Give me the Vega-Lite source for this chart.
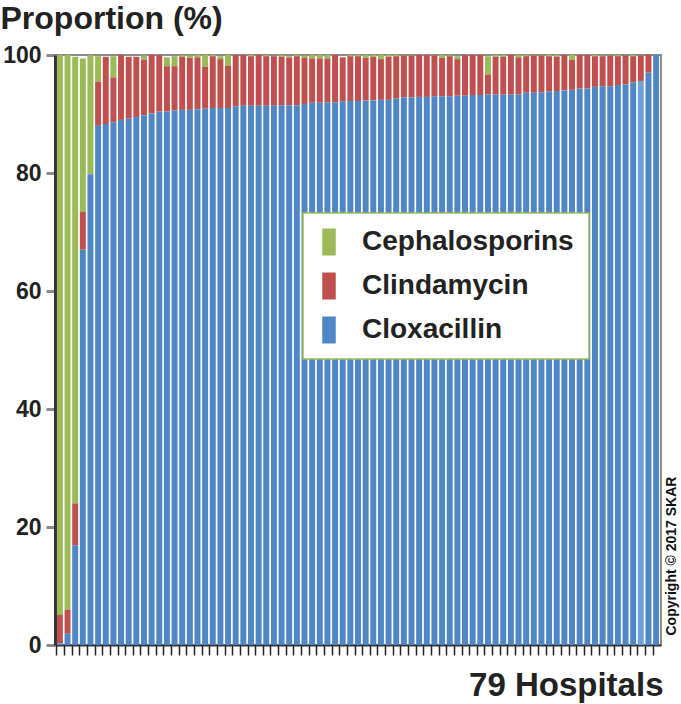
{
  "$schema": "https://vega.github.io/schema/vega-lite/v6.json",
  "autosize": {"type": "none"},
  "padding": {"left": 55, "top": 55, "right": 20, "bottom": 59},
  "width": 606,
  "height": 590,
  "background": "white",
  "config": {
    "font": "Liberation Sans",
    "view": {"stroke": "#8c8c8c", "strokeWidth": 2},
    "legend": {
      "orient": "none",
      "legendX": 248,
      "legendY": 158,
      "strokeColor": "#9bbb59",
      "strokeWidth": 1.5,
      "fillColor": "white",
      "padding": 15,
      "labelFontSize": 28,
      "labelFontWeight": "bold",
      "labelColor": "#222222",
      "labelBaseline": "middle",
      "labelLimit": 400,
      "labelOffset": 19,
      "symbolType": "M-0.5,-1H0.5V1H-0.5Z",
      "symbolSize": 729,
      "symbolStrokeWidth": 0,
      "symbolOffset": -3,
      "rowPadding": 16
    }
  },
  "data": {
    "values": [
      {"h": 1, "Cloxacillin": 0.3, "Clindamycin": 4.8, "Cephalosporins": 94.9},
      {"h": 2, "Cloxacillin": 1.9, "Clindamycin": 4.1, "Cephalosporins": 94.0},
      {"h": 3, "Cloxacillin": 16.9, "Clindamycin": 7.1, "Cephalosporins": 75.7},
      {"h": 4, "Cloxacillin": 67.0, "Clindamycin": 6.4, "Cephalosporins": 26.0},
      {"h": 5, "Cloxacillin": 79.8, "Clindamycin": 0, "Cephalosporins": 20.2},
      {"h": 6, "Cloxacillin": 88.0, "Clindamycin": 7.5, "Cephalosporins": 4.3},
      {"h": 7, "Cloxacillin": 88.3, "Clindamycin": 11.4, "Cephalosporins": 0},
      {"h": 8, "Cloxacillin": 88.6, "Clindamycin": 7.6, "Cephalosporins": 3.6},
      {"h": 9, "Cloxacillin": 89.0, "Clindamycin": 11.0, "Cephalosporins": 0},
      {"h": 10, "Cloxacillin": 89.2, "Clindamycin": 10.5, "Cephalosporins": 0},
      {"h": 11, "Cloxacillin": 89.5, "Clindamycin": 10.2, "Cephalosporins": 0},
      {"h": 12, "Cloxacillin": 89.8, "Clindamycin": 9.4, "Cephalosporins": 0.7},
      {"h": 13, "Cloxacillin": 90.1, "Clindamycin": 9.9, "Cephalosporins": 0},
      {"h": 14, "Cloxacillin": 90.4, "Clindamycin": 9.6, "Cephalosporins": 0},
      {"h": 15, "Cloxacillin": 90.4, "Clindamycin": 7.7, "Cephalosporins": 1.5},
      {"h": 16, "Cloxacillin": 90.6, "Clindamycin": 7.5, "Cephalosporins": 1.7},
      {"h": 17, "Cloxacillin": 90.7, "Clindamycin": 9.0, "Cephalosporins": 0.3},
      {"h": 18, "Cloxacillin": 90.7, "Clindamycin": 8.8, "Cephalosporins": 0.4},
      {"h": 19, "Cloxacillin": 90.8, "Clindamycin": 8.8, "Cephalosporins": 0.4},
      {"h": 20, "Cloxacillin": 90.9, "Clindamycin": 7.1, "Cephalosporins": 2.0},
      {"h": 21, "Cloxacillin": 91.0, "Clindamycin": 8.8, "Cephalosporins": 0.2},
      {"h": 22, "Cloxacillin": 91.0, "Clindamycin": 8.3, "Cephalosporins": 0.5},
      {"h": 23, "Cloxacillin": 91.0, "Clindamycin": 7.2, "Cephalosporins": 1.8},
      {"h": 24, "Cloxacillin": 91.3, "Clindamycin": 8.7, "Cephalosporins": 0},
      {"h": 25, "Cloxacillin": 91.4, "Clindamycin": 8.6, "Cephalosporins": 0},
      {"h": 26, "Cloxacillin": 91.4, "Clindamycin": 8.4, "Cephalosporins": 0.2},
      {"h": 27, "Cloxacillin": 91.4, "Clindamycin": 8.6, "Cephalosporins": 0},
      {"h": 28, "Cloxacillin": 91.4, "Clindamycin": 8.4, "Cephalosporins": 0.2},
      {"h": 29, "Cloxacillin": 91.4, "Clindamycin": 8.4, "Cephalosporins": 0},
      {"h": 30, "Cloxacillin": 91.5, "Clindamycin": 8.2, "Cephalosporins": 0.3},
      {"h": 31, "Cloxacillin": 91.5, "Clindamycin": 8.1, "Cephalosporins": 0.2},
      {"h": 32, "Cloxacillin": 91.5, "Clindamycin": 8.3, "Cephalosporins": 0.2},
      {"h": 33, "Cloxacillin": 91.7, "Clindamycin": 7.8, "Cephalosporins": 0.4},
      {"h": 34, "Cloxacillin": 91.9, "Clindamycin": 7.5, "Cephalosporins": 0.6},
      {"h": 35, "Cloxacillin": 91.9, "Clindamycin": 7.5, "Cephalosporins": 0.6},
      {"h": 36, "Cloxacillin": 92.0, "Clindamycin": 7.4, "Cephalosporins": 0.6},
      {"h": 37, "Cloxacillin": 92.0, "Clindamycin": 8.0, "Cephalosporins": 0},
      {"h": 38, "Cloxacillin": 92.1, "Clindamycin": 7.5, "Cephalosporins": 0},
      {"h": 39, "Cloxacillin": 92.2, "Clindamycin": 7.6, "Cephalosporins": 0.2},
      {"h": 40, "Cloxacillin": 92.2, "Clindamycin": 7.6, "Cephalosporins": 0.2},
      {"h": 41, "Cloxacillin": 92.3, "Clindamycin": 7.2, "Cephalosporins": 0.5},
      {"h": 42, "Cloxacillin": 92.3, "Clindamycin": 7.4, "Cephalosporins": 0.3},
      {"h": 43, "Cloxacillin": 92.4, "Clindamycin": 6.9, "Cephalosporins": 0.7},
      {"h": 44, "Cloxacillin": 92.4, "Clindamycin": 7.3, "Cephalosporins": 0.3},
      {"h": 45, "Cloxacillin": 92.6, "Clindamycin": 7.2, "Cephalosporins": 0.2},
      {"h": 46, "Cloxacillin": 92.8, "Clindamycin": 7.1, "Cephalosporins": 0.1},
      {"h": 47, "Cloxacillin": 92.8, "Clindamycin": 7.1, "Cephalosporins": 0.1},
      {"h": 48, "Cloxacillin": 92.9, "Clindamycin": 7.1, "Cephalosporins": 0},
      {"h": 49, "Cloxacillin": 92.9, "Clindamycin": 7.1, "Cephalosporins": 0},
      {"h": 50, "Cloxacillin": 93.0, "Clindamycin": 6.9, "Cephalosporins": 0},
      {"h": 51, "Cloxacillin": 93.0, "Clindamycin": 6.5, "Cephalosporins": 0.5},
      {"h": 52, "Cloxacillin": 93.0, "Clindamycin": 6.8, "Cephalosporins": 0.1},
      {"h": 53, "Cloxacillin": 93.1, "Clindamycin": 6.2, "Cephalosporins": 0.5},
      {"h": 54, "Cloxacillin": 93.1, "Clindamycin": 6.9, "Cephalosporins": 0},
      {"h": 55, "Cloxacillin": 93.2, "Clindamycin": 6.8, "Cephalosporins": 0},
      {"h": 56, "Cloxacillin": 93.2, "Clindamycin": 6.8, "Cephalosporins": 0},
      {"h": 57, "Cloxacillin": 93.3, "Clindamycin": 3.4, "Cephalosporins": 3.1},
      {"h": 58, "Cloxacillin": 93.3, "Clindamycin": 6.4, "Cephalosporins": 0.3},
      {"h": 59, "Cloxacillin": 93.3, "Clindamycin": 6.4, "Cephalosporins": 0.3},
      {"h": 60, "Cloxacillin": 93.3, "Clindamycin": 6.7, "Cephalosporins": 0},
      {"h": 61, "Cloxacillin": 93.3, "Clindamycin": 6.3, "Cephalosporins": 0.4},
      {"h": 62, "Cloxacillin": 93.6, "Clindamycin": 6.2, "Cephalosporins": 0.2},
      {"h": 63, "Cloxacillin": 93.6, "Clindamycin": 6.3, "Cephalosporins": 0.1},
      {"h": 64, "Cloxacillin": 93.7, "Clindamycin": 6.2, "Cephalosporins": 0.1},
      {"h": 65, "Cloxacillin": 93.8, "Clindamycin": 6.0, "Cephalosporins": 0.2},
      {"h": 66, "Cloxacillin": 93.9, "Clindamycin": 5.8, "Cephalosporins": 0.3},
      {"h": 67, "Cloxacillin": 94.0, "Clindamycin": 6.0, "Cephalosporins": 0},
      {"h": 68, "Cloxacillin": 94.1, "Clindamycin": 5.1, "Cephalosporins": 0.8},
      {"h": 69, "Cloxacillin": 94.3, "Clindamycin": 5.7, "Cephalosporins": 0},
      {"h": 70, "Cloxacillin": 94.3, "Clindamycin": 5.7, "Cephalosporins": 0},
      {"h": 71, "Cloxacillin": 94.6, "Clindamycin": 5.2, "Cephalosporins": 0.2},
      {"h": 72, "Cloxacillin": 94.7, "Clindamycin": 5.1, "Cephalosporins": 0.1},
      {"h": 73, "Cloxacillin": 94.7, "Clindamycin": 5.2, "Cephalosporins": 0.1},
      {"h": 74, "Cloxacillin": 94.9, "Clindamycin": 4.9, "Cephalosporins": 0.2},
      {"h": 75, "Cloxacillin": 95.0, "Clindamycin": 4.9, "Cephalosporins": 0},
      {"h": 76, "Cloxacillin": 95.4, "Clindamycin": 4.4, "Cephalosporins": 0.2},
      {"h": 77, "Cloxacillin": 95.6, "Clindamycin": 4.3, "Cephalosporins": 0},
      {"h": 78, "Cloxacillin": 97.0, "Clindamycin": 3.0, "Cephalosporins": 0},
      {"h": 79, "Cloxacillin": 100, "Clindamycin": 0, "Cephalosporins": 0}
    ]
  },
  "transform": [
    {"fold": ["Cephalosporins", "Clindamycin", "Cloxacillin"], "as": ["drug", "pct"]}
  ],
  "encoding": {
    "x": {
      "field": "h",
      "type": "ordinal",
      "scale": {"paddingInner": 0.22, "paddingOuter": 0.25},
      "axis": {
        "title": "79 Hospitals",
        "titleFontSize": 33,
        "titleFontWeight": "bold",
        "titleColor": "#222222",
        "titleAlign": "right",
        "titleBaseline": "alphabetic",
        "titleX": 608,
        "titleY": 50,
        "labels": false,
        "bandPosition": 0,
        "ticks": true,
        "tickColor": "#222222",
        "tickWidth": 1.5,
        "tickSize": 10,
        "domainColor": "#333333",
        "domainWidth": 2
      }
    },
    "y": {
      "field": "pct",
      "type": "quantitative",
      "stack": "zero",
      "scale": {"domain": [0, 100], "nice": false},
      "axis": {
        "title": "Proportion (%)",
        "titleAngle": 0,
        "titleAlign": "left",
        "titleBaseline": "alphabetic",
        "titleX": -55,
        "titleY": -27,
        "titleFontSize": 32,
        "titleFontWeight": "bold",
        "titleColor": "#222222",
        "values": [0, 20, 40, 60, 80, 100],
        "labelFontSize": 23,
        "labelFontWeight": "bold",
        "labelColor": "#222222",
        "labelPadding": 5,
        "tickColor": "#8c8c8c",
        "tickWidth": 3,
        "tickSize": 9,
        "domainColor": "#333333",
        "domainWidth": 3,
        "grid": false
      }
    },
    "order": {"field": "drug", "sort": "descending"}
  },
  "layer": [
    {
      "mark": {"type": "bar"},
      "encoding": {
        "color": {
          "field": "drug",
          "type": "nominal",
          "condition": {"test": "datum.h === 77 && datum.drug === 'Cloxacillin'", "value": "#6fa2da"},
          "scale": {
            "domain": ["Cephalosporins", "Clindamycin", "Cloxacillin"],
            "range": ["#9bbb59", "#c0504d", "#4f86c6"]
          },
          "legend": {"title": null}
        }
      }
    },
    {
      "mark": {"type": "bar", "opacity": 0},
      "encoding": {
        "y": {
          "field": "pct",
          "type": "quantitative",
          "stack": "zero",
          "scale": {"domain": [0, 100], "nice": false},
          "axis": {
            "orient": "right",
            "title": "Copyright © 2017 SKAR",
            "titleAngle": 270,
            "titleAlign": "left",
            "titleBaseline": "alphabetic",
            "titleX": 14,
            "titleY": 580,
            "titleFontSize": 14,
            "titleFontWeight": "bold",
            "titleColor": "#111111",
            "labels": false,
            "ticks": false,
            "domain": false,
            "grid": false
          }
        }
      }
    }
  ],
  "resolve": {"axis": {"y": "independent"}}
}
